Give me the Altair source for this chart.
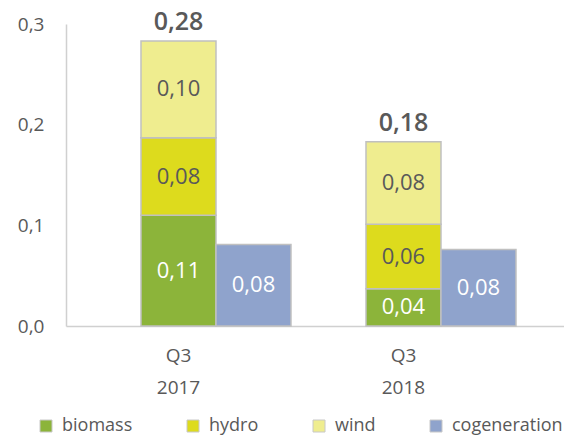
import altair as alt
import pandas as pd

categories = ["Q3 2017", "Q3 2018"]
biomass = [0.110, 0.037]
hydro = [0.077, 0.064]
wind = [0.096, 0.082]
cogeneration = [0.081, 0.076]

series_names = ["biomass", "hydro", "wind", "cogeneration"]
series_colors = ["#8cb43a", "#dddb1d", "#efed8f", "#8fa3cc"]

rows = []
for i, c in enumerate(categories):
    for order, (name, vals) in enumerate(zip(series_names, [biomass, hydro, wind, cogeneration])):
        slot = "cogen" if name == "cogeneration" else "stack"
        rows.append({"cat": c, "series": name, "value": vals[i], "slot": slot, "ord": order})
df = pd.DataFrame(rows)

font = "Open Sans"
gray = "#595959"

x_enc = alt.X("cat:N", sort=categories,
              scale=alt.Scale(paddingInner=0, paddingOuter=0.1067, align=0),
              axis=alt.Axis(title=None, labelAngle=0, ticks=False, domainColor="#d0d0d0",
                            domainWidth=1.5, labelFont=font, labelFontSize=19, labelColor=gray,
                            labelPadding=20, labelLineHeight=32,
                            labelExpr="split(datum.label, ' ')"))
xoff = alt.XOffset("slot:N", scale=alt.Scale(domain=["pad", "stack", "cogen"], paddingInner=0, paddingOuter=0))

base = alt.Chart(df).transform_stack(
    stack="value", as_=["y0", "y1"], groupby=["cat", "slot"], sort=[alt.SortField("ord")]
).transform_calculate(
    ymid="(datum.y0 + datum.y1) / 2",
    lbl="replace(format(datum.value, '.2f'), '.', ',')",
    tcol="(datum.series == 'biomass' || datum.series == 'cogeneration') ? 'white' : '#595959'",
)

y_scale = alt.Scale(domain=[0, 0.3])

bars = base.mark_bar(stroke="#c0c0c0", strokeWidth=1.5).encode(
    x=x_enc,
    xOffset=xoff,
    y=alt.Y("y1:Q", scale=y_scale,
            axis=alt.Axis(title=None, values=[0, 0.1, 0.2, 0.3], grid=False, ticks=False,
                          domainColor="#d0d0d0", domainWidth=1.5, labelFont=font,
                          labelFontSize=19, labelColor=gray, labelPadding=22,
                          labelExpr="replace(format(datum.value, '.1f'), '.', ',')")),
    y2="y0:Q",
    color=alt.Color("series:N", scale=alt.Scale(domain=series_names, range=series_colors),
                    legend=alt.Legend(title=None, orient="none", direction="horizontal",
                                      legendX=-29, legendY=393, symbolType="square",
                                      symbolSize=144, symbolStrokeWidth=1,
                                      symbolStrokeColor="#c8c8c8",
                                      labelFont=font, labelFontSize=18, labelColor=gray,
                                      columnPadding=51, labelOffset=7)),
)

texts = base.mark_text(font=font, fontSize=22, baseline="middle").encode(
    x=x_enc,
    xOffset=xoff,
    y=alt.Y("ymid:Q", scale=y_scale),
    text="lbl:N",
    color=alt.Color("tcol:N", scale=None),
)

totals = alt.Chart(df).transform_filter("datum.slot == 'stack'").transform_aggregate(
    total="sum(value)", groupby=["cat", "slot"]
).transform_calculate(
    tl="replace(format(datum.total, '.2f'), '.', ',')"
).mark_text(font=font, fontSize=25, fontWeight=600, color=gray, baseline="alphabetic", dy=-11).encode(
    x=x_enc,
    xOffset=xoff,
    y=alt.Y("total:Q", scale=y_scale),
    text="tl:N",
)

chart = alt.layer(bars, texts, totals).properties(
    width=498, height=302,
    autosize=alt.AutoSizeParams(type="none"),
    padding={"left": 58, "top": 16, "right": 0, "bottom": 113},
).configure_view(stroke=None)

chart.save("out.html", embed_options={"renderer": "svg", "actions": False})
